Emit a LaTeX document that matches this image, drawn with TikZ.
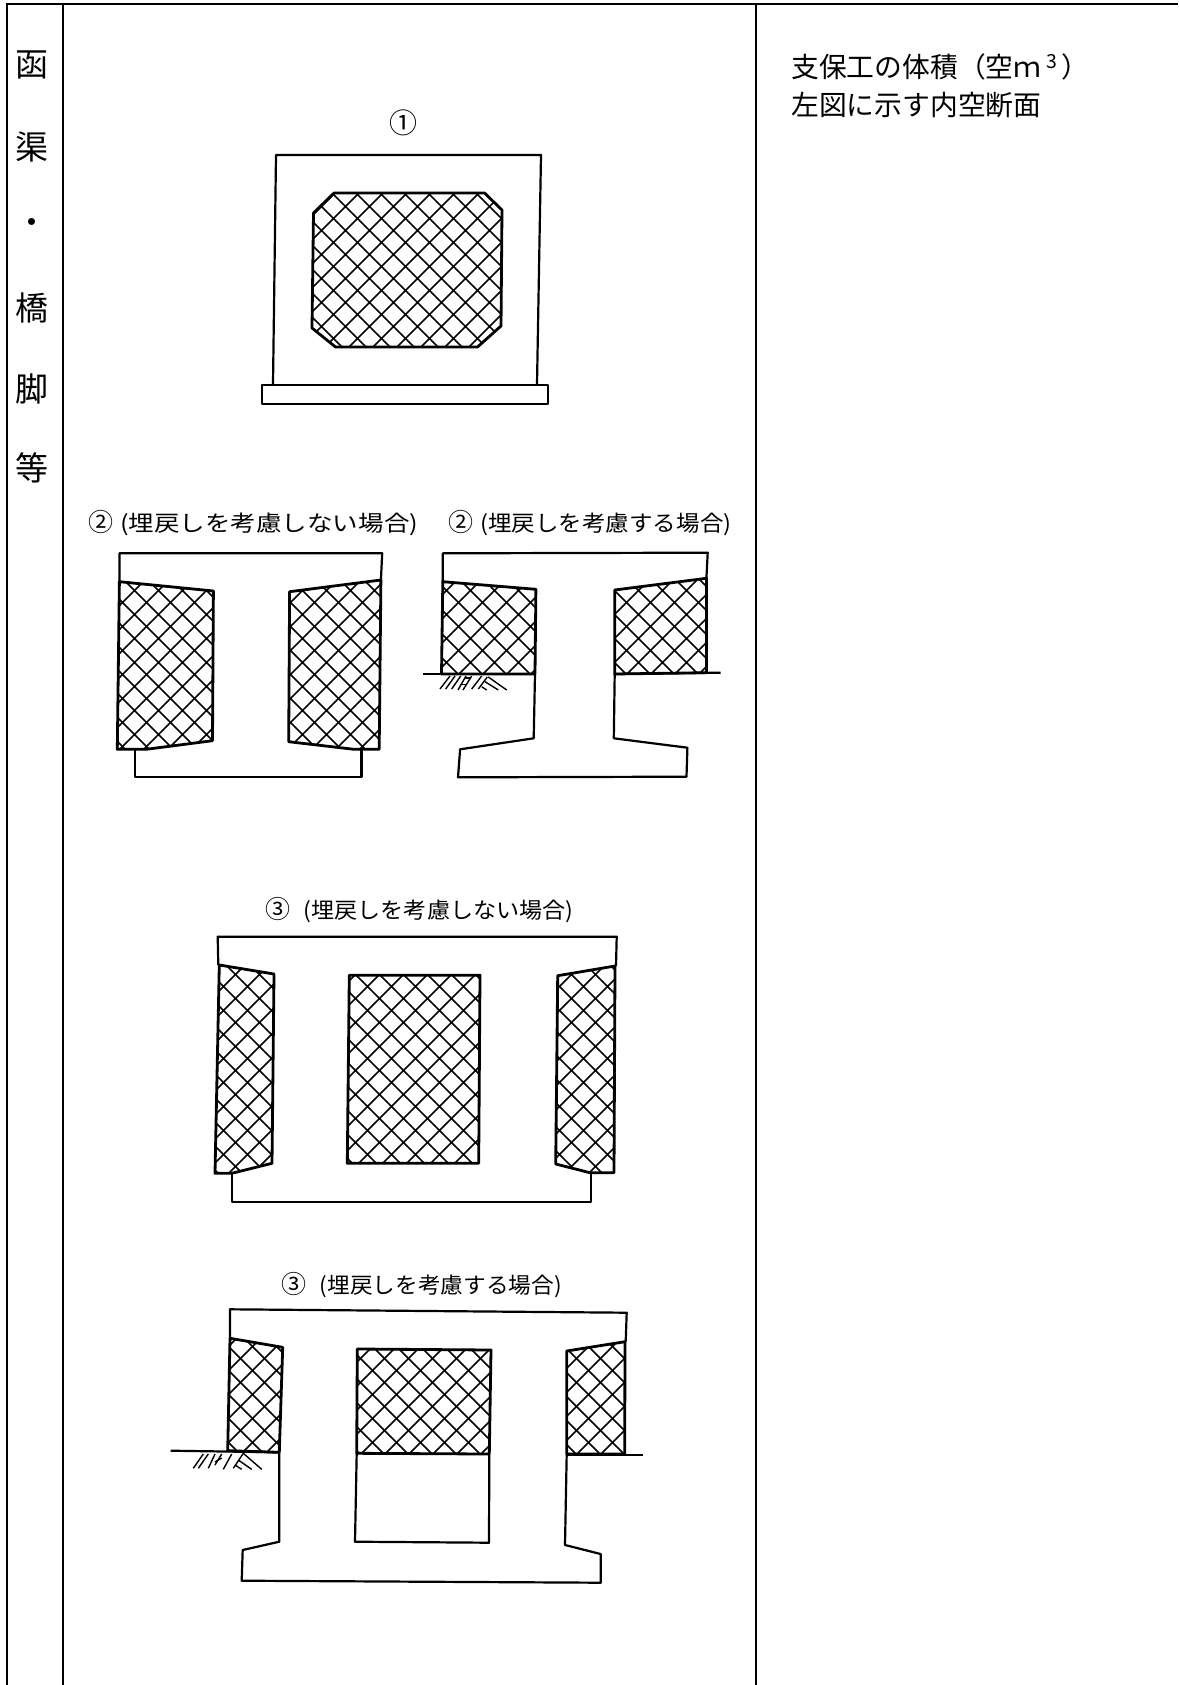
\documentclass[tikz,border=0pt]{standalone}
\usepackage{fontspec}
\setmainfont{Noto Sans CJK JP}
\newcommand{\xhatch}[3]{% polygon path, phase a, phase b
  \begin{scope}
    \clip #1;
    \foreach \k in {0,...,125} {
      \draw[hatchline] ({#2+\k*24},0) -- ({#2+\k*24-1685},1685);
      \draw[hatchline] ({#3-1685+\k*24},0) -- ({#3+\k*24},1685);
    }
  \end{scope}
  \draw[panel] #1;
}
\newcommand{\circnum}[1]{{\fontsize{25}{24}\selectfont #1}}
\tikzset{
  hatchline/.style={line width=1.6pt,black},
  panel/.style={line width=2.8pt,black,line join=round},
  outline/.style={line width=2.2pt,black,line join=round},
  frameline/.style={line width=2.2pt,black},
  groundstroke/.style={line width=1.4pt,black},
  title/.style={font=\fontsize{22}{24}\selectfont,inner sep=0pt,anchor=west},
  sidechar/.style={font=\fontsize{33}{36}\selectfont,inner sep=0pt},
  note/.style={font=\fontsize{27.8}{30}\selectfont,inner sep=0pt,anchor=west}
}
\begin{document}
\begin{tikzpicture}[x=1pt,y=-1pt]
\useasboundingbox (0,0) rectangle (1178,1685);
\fill[white] (0,0) rectangle (1178,1685);
% frame
\draw[frameline] (7,1685) -- (7,4) -- (1178,4);
\draw[frameline] (63,4) -- (63,1685);
\draw[frameline] (756,4) -- (756,1685);
% side text
\node[sidechar] (c1) at (32,64.5) {函};
\node[sidechar] (c2) at (32,147) {渠};
\node[sidechar] (c3) at (32,226) {・};
\node[sidechar] (c4) at (32,308) {橋};
\node[sidechar] (c5) at (32,389) {脚};
\node[sidechar] (c6) at (32,467.5) {等};
% notes
\node[note] (n1) at (791,67) {支保工の体積（空ｍ\,\textsuperscript{3}\,）};
\node[note] (n2) at (791,105) {左図に示す内空断面};
% diagram 1
\node[font=\fontsize{28}{30}\selectfont,inner sep=0pt] (t1) at (403,122.5) {①};
\draw[outline] (273,384) -- (276,155) -- (541,155) -- (537,384);
\draw[panel] (262,385) rectangle (548,404);
\xhatch{(334,193) -- (484.5,193) -- (502,210) -- (501,326) -- (477.5,347) -- (335.5,347) -- (312,328) -- (313.5,213) -- cycle}{0}{0}
% diagram 2a
\node[title] (t2a) at (88,523) {\circnum{②}\hspace{7pt}\scalebox{1.16}[1]{(埋戻しを考慮しない場合)}};
\draw[outline] (119.4,581.7) -- (119.4,553.3) -- (382.2,553.3) -- (380.9,580);
\draw[outline] (134.6,750) -- (134.6,777.3) -- (361.4,777.3) -- (361.4,749.3);
\xhatch{(119.4,581.7) -- (213.4,591) -- (212.5,740.7) -- (146.3,749.3) -- (117.3,749.3) -- cycle}{5}{5}
\xhatch{(380.9,580) -- (289.6,591.7) -- (288.7,741.7) -- (354,749.3) -- (379.2,749.3) -- cycle}{5}{5}
% diagram 2b
\node[title] (t2b) at (448,523) {\circnum{②}\hspace{7pt}\scalebox{1.07}[1]{(埋戻しを考慮する場合)}};
\draw[outline] (442.8,581.7) -- (442.8,553.3) -- (707.7,552.7) -- (706.4,578.3);
\xhatch{(442.8,581.7) -- (535.9,589.3) -- (535,674) -- (441.5,674) -- cycle}{5}{5}
\xhatch{(706.4,578.3) -- (614.7,590) -- (614.7,674) -- (706.4,672.7) -- cycle}{5}{5}
\draw[outline] (423.3,674) -- (535.9,674);
\draw[outline] (614.7,674) -- (720.7,672.7);
\draw[outline] (535,674) -- (533.7,738.3) -- (460.1,749.3) -- (458,777.3) -- (686.5,776.7) -- (687.4,747.7) -- (613.8,738.3) -- (614.7,674);
\foreach \a/\b/\c/\d in {450/676/440/689, 455/676/445.7/689, 460.7/676/451.7/689, 466/676/458/690, 471.7/676/463/690, 481.7/676/471.7/689, 487.3/677/478.3/689, 488.3/677/506.7/690, 485/681.7/498.3/690, 481.7/686.7/486.7/690, 460/684.3/466.7/684.3, 465/678/471/678}
  \draw[groundstroke] (\a,\b) -- (\c,\d);
% diagram 3a
\node[title] (t3a) at (265.5,910) {\circnum{③}\hspace{13pt}\scalebox{1.05}[1]{(埋戻しを考慮しない場合)}};
\draw[outline] (218.3,965) -- (217.7,936.7) -- (616.7,936.7) -- (616,966);
\draw[outline] (231.7,1173.3) -- (231.7,1201.7) -- (591,1201.7) -- (591,1172.7);
\xhatch{(219.3,965) -- (274,974) -- (272,1163.3) -- (231.7,1173.3) -- (215,1173.3) -- cycle}{10}{10}
\xhatch{(349.3,975.3) -- (480,975.3) -- (478.7,1163.3) -- (347.3,1163.3) -- cycle}{10}{10}
\xhatch{(615,966) -- (557.7,975.7) -- (555.7,1164) -- (590,1172.7) -- (614,1172.7) -- cycle}{10}{10}
% diagram 3b
\node[title] (t3b) at (281.7,1285) {\circnum{③}\hspace{13pt}\scalebox{1.03}[1]{(埋戻しを考慮する場合)}};
\draw[outline] (230,1338.3) -- (230,1309.3) -- (626.7,1312.7) -- (625.7,1341.7);
\xhatch{(230,1338.3) -- (282.7,1347.3) -- (279.3,1452.3) -- (227.7,1450.7) -- cycle}{15}{15}
\xhatch{(357.3,1349) -- (491,1350) -- (489.3,1454) -- (356.7,1453.3) -- cycle}{15}{15}
\xhatch{(625,1341.7) -- (566.7,1351) -- (566.7,1454) -- (624.7,1454) -- cycle}{15}{15}
\draw[outline] (356.7,1453.3) -- (355,1541.7) -- (489,1542.7) -- (489.3,1454);
\draw[outline] (170.7,1450.7) -- (279.3,1452.3);
\draw[outline] (566.7,1455) -- (642.7,1455);
\draw[outline] (279.3,1452.3) -- (279.3,1541.7) -- (242.7,1550) -- (241.7,1580.7) -- (600.7,1582.7) -- (600.7,1554) -- (565,1545) -- (566.7,1454);
\foreach \a/\b/\c/\d in {203.3/1454/193.3/1468.3, 208.3/1454/198.3/1468.3, 215/1454/208.3/1468.3, 221.7/1454/215/1465, 231.7/1454/223.3/1469.3, 243.3/1453.3/233.3/1468.3, 243.3/1453.3/261.7/1469.3, 238.3/1460/251.7/1469.3, 235/1465/241.7/1469.3, 215/1462/221.7/1458}
  \draw[groundstroke] (\a,\b) -- (\c,\d);
\end{tikzpicture}
\end{document}
